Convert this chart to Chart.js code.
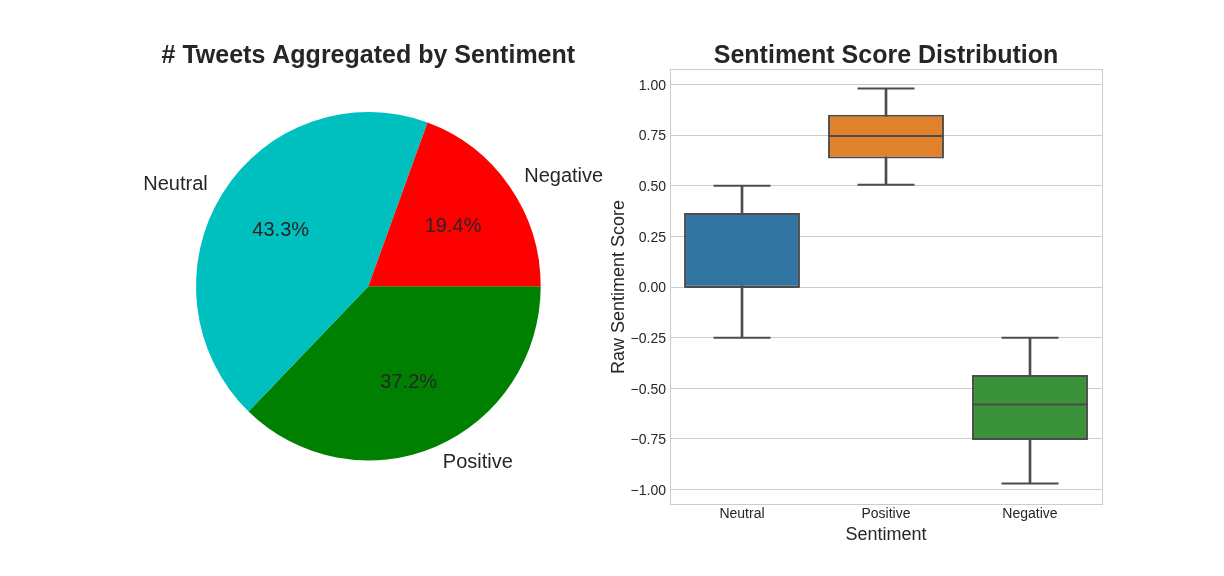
<!DOCTYPE html>
<html>
<head>
<meta charset="utf-8">
<script src="https://cdn.jsdelivr.net/npm/chart.js@4"></script>
<style>
html,body{margin:0;padding:0;background:#fff;overflow:hidden}
canvas{position:absolute;top:0}
#pie{left:0}
#box{left:600px}
</style>
</head>
<body>
<canvas id="pie" width="738" height="576"></canvas>
<canvas id="box" width="624" height="576"></canvas>
<script>
const pieLabels = ['Positive', 'Neutral', 'Negative'];
const pieValues = [37.2, 43.3, 19.4];
const pieColors = ['#008000', '#00bfbf', '#ff0000'];

const boxCategories = ['Neutral', 'Positive', 'Negative'];
const boxQ1 = [-0.003, 0.635, -0.755];
const boxQ3 = [0.365, 0.85, -0.435];
const boxMedian = [0.0, 0.745, -0.58];
const whiskerLow = [-0.25, 0.505, -0.97];
const whiskerHigh = [0.5, 0.98, -0.25];
const boxColors = ['#3274a1', '#e1812c', '#3a923a'];
const yTicks = [-1, -0.75, -0.5, -0.25, 0, 0.25, 0.5, 0.75, 1];

const FONT = '"Liberation Sans", Arial, sans-serif';
const TEXT = '#262626';
const EDGE = '#4c4c4c';
const GRID = '#cccccc';
const PIE_STRETCH = 1.011;
Chart.defaults.font.family = FONT;
Chart.defaults.color = TEXT;
Chart.defaults.animation = false;
Chart.defaults.responsive = false;

const pieText = {
  id: 'pieText',
  beforeDatasetsDraw(chart) {
    const ctx = chart.ctx, arc = chart.getDatasetMeta(0).data[0];
    ctx.save();
    ctx.translate(0, arc.y);
    ctx.scale(1, PIE_STRETCH);
    ctx.translate(0, -arc.y);
  },
  afterDatasetsDraw(chart) {
    const ctx = chart.ctx;
    ctx.restore();
    const arcs = chart.getDatasetMeta(0).data;
    ctx.save();
    ctx.font = '20px ' + FONT;
    ctx.fillStyle = TEXT;
    ctx.textBaseline = 'middle';
    arcs.forEach((arc, i) => {
      const mid = (arc.startAngle + arc.endAngle) / 2;
      const c = Math.cos(mid), s = Math.sin(mid) * PIE_STRETCH, r = arc.outerRadius;
      ctx.textAlign = 'center';
      ctx.fillText(pieValues[i].toFixed(1) + '%', arc.x + 0.6 * r * c, arc.y + 0.6 * r * s);
      ctx.textAlign = c > 0 ? 'left' : 'right';
      ctx.fillText(pieLabels[i], arc.x + 1.1 * r * c + (c > 0 ? 0.5 : 0), arc.y + 1.1 * r * s + 0.2);
    });
    ctx.restore();
  }
};

new Chart(document.getElementById('pie'), {
  type: 'pie',
  data: {
    labels: pieLabels,
    datasets: [{ data: pieValues, backgroundColor: pieColors, borderWidth: 0, clip: false }]
  },
  options: {
    devicePixelRatio: 1,
    rotation: 90,
    layout: { padding: { top: 44, bottom: 117.4, left: 0, right: 1.3 } },
    plugins: {
      legend: { display: false },
      tooltip: { enabled: false },
      title: {
        display: true,
        text: '# Tweets Aggregated by Sentiment',
        color: TEXT,
        font: { size: 25, weight: 'bold', lineHeight: 1, family: FONT },
        padding: { top: 0, bottom: 44.9 }
      }
    }
  },
  plugins: [pieText]
});

const frame = {
  id: 'frame',
  beforeDatasetsDraw(chart) {
    const a = chart.chartArea, ctx = chart.ctx;
    ctx.save();
    ctx.strokeStyle = GRID;
    ctx.lineWidth = 1;
    ctx.strokeRect(a.left + 0.5, a.top - 0.5, a.right - a.left, a.bottom - a.top + 1);
    ctx.restore();
  }
};

const capSet = (label, data) => ({
  type: 'line', label, data, showLine: false, order: 1,
  pointStyle: 'line', pointRadius: 28.5, pointBorderWidth: 2,
  pointBorderColor: EDGE, pointBackgroundColor: EDGE
});

new Chart(document.getElementById('box'), {
  type: 'bar',
  data: {
    labels: boxCategories,
    datasets: [
      { label: 'Whiskers', data: whiskerLow.map((v, i) => [v, whiskerHigh[i]]),
        backgroundColor: EDGE, barThickness: 2, grouped: false, order: 3 },
      { label: 'Boxes', data: boxQ1.map((v, i) => [v, boxQ3[i]]),
        backgroundColor: boxColors, borderColor: EDGE, borderWidth: 2, borderSkipped: false,
        barPercentage: 0.805, categoryPercentage: 1, grouped: false, order: 2 },
      capSet('Low cap', whiskerLow),
      capSet('High cap', whiskerHigh),
      { type: 'line', label: 'Median', data: boxMedian, showLine: false, order: 0,
        pointStyle: 'line', pointRadius: 57.5, pointBorderWidth: 2,
        pointBorderColor: EDGE, pointBackgroundColor: EDGE }
    ]
  },
  options: {
    devicePixelRatio: 1,
    layout: { padding: { top: 44, bottom: 30, left: 8, right: 122 } },
    plugins: {
      legend: { display: false },
      tooltip: { enabled: false },
      title: {
        display: true,
        fullSize: false,
        text: 'Sentiment Score Distribution',
        color: TEXT,
        font: { size: 25, weight: 'bold', lineHeight: 1, family: FONT },
        padding: { top: 0, bottom: 1 }
      }
    },
    scales: {
      x: {
        afterFit(s) { s.height = 42; },
        grid: { display: false, drawTicks: false },
        border: { color: GRID },
        ticks: { font: { size: 14 }, color: TEXT, padding: 2, maxRotation: 0 },
        title: { display: true, text: 'Sentiment', color: TEXT, font: { size: 18 }, padding: 0 }
      },
      y: {
        min: -1.0714,
        max: 1.0714,
        afterFit(s) { s.width = 62; },
        afterBuildTicks(s) { s.ticks = yTicks.map(v => ({ value: v })); },
        grid: { color: GRID, lineWidth: 1, drawTicks: false },
        border: { color: GRID },
        ticks: {
          font: { size: 14 }, color: TEXT, padding: 4, labelOffset: 1.5,
          callback: v => (v < 0 ? '\u2212' : '') + Math.abs(v).toFixed(2)
        },
        title: { display: true, text: 'Raw Sentiment Score', color: TEXT, font: { size: 18 }, padding: 0 }
      }
    }
  },
  plugins: [frame]
});
</script>
</body>
</html>
